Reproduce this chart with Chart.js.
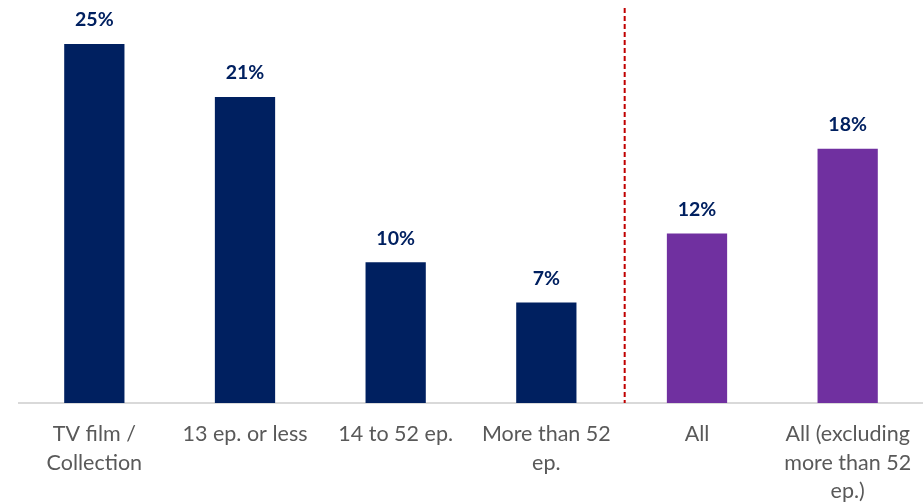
<!DOCTYPE html>
<html>
<head>
<meta charset="utf-8">
<script src="https://cdn.jsdelivr.net/npm/chart.js@4.4.1/dist/chart.umd.min.js"></script>
<style>
  html, body { margin: 0; padding: 0; background: #ffffff; overflow: hidden; }
  #wrap { width: 923px; height: 504px; position: relative; }
</style>
</head>
<body>
<div id="wrap"><canvas id="c"></canvas></div>
<script>
const categories = [
  ["TV film /", "Collection"],
  "13 ep. or less",
  "14 to 52 ep.",
  ["More than 52", "ep."],
  "All",
  ["All (excluding", "more than 52", "ep.)"]
];
const values = [25.0, 21.3, 9.8, 7.0, 11.8, 17.7];
const valueLabels = ["25%", "21%", "10%", "7%", "12%", "18%"];
const barColors = ["#002060", "#002060", "#002060", "#002060", "#7030A0", "#7030A0"];
const dividerAt = 3.52; // between "More than 52 ep." and "All"

const FONT = "Lato, 'Open Sans', sans-serif";

const labelPlugin = {
  id: 'valueLabels',
  afterDatasetsDraw(chart) {
    const ctx = chart.ctx;
    const meta = chart.getDatasetMeta(0);
    ctx.save();
    ctx.font = "bold 19.5px " + FONT;
    ctx.fillStyle = "#002060";
    ctx.textAlign = "center";
    ctx.textBaseline = "middle";
    meta.data.forEach((bar, i) => {
      ctx.fillText(valueLabels[i], bar.x, bar.y - 24);
    });
    ctx.restore();
  }
};

const dividerPlugin = {
  id: 'divider',
  afterDatasetsDraw(chart) {
    const ctx = chart.ctx;
    const x = chart.scales.x.getPixelForValue(dividerAt);
    const area = chart.chartArea;
    ctx.save();
    ctx.strokeStyle = "#C00000";
    ctx.lineWidth = 2;
    ctx.setLineDash([5, 3]);
    ctx.beginPath();
    ctx.moveTo(x, area.top);
    ctx.lineTo(x, area.bottom);
    ctx.stroke();
    ctx.restore();
  }
};

new Chart(document.getElementById('c'), {
  type: 'bar',
  data: {
    labels: categories,
    datasets: [{
      data: values,
      backgroundColor: barColors,
      borderWidth: 0,
      categoryPercentage: 1.0,
      barPercentage: 0.4
    }]
  },
  options: {
    responsive: true,
    maintainAspectRatio: false,
    animation: false,
    layout: { padding: { left: 19, right: 0, top: 8, bottom: 0 } },
    plugins: { legend: { display: false }, tooltip: { enabled: false } },
    scales: {
      y: {
        display: false,
        min: 0,
        max: 27.5
      },
      x: {
        grid: { display: false, drawTicks: false },
        border: { display: true, color: "#D9D9D9", width: 2 },
        ticks: {
          color: "#595959",
          font: { family: FONT, size: 21.5, lineHeight: 1.33 },
          padding: 17,
          maxRotation: 0,
          autoSkip: false
        },
        afterFit(scale) {
          scale.height = 101;
          scale.paddingLeft = 0;
          scale.paddingRight = 0;
        }
      }
    }
  },
  plugins: [labelPlugin, dividerPlugin]
});
</script>
</body>
</html>
